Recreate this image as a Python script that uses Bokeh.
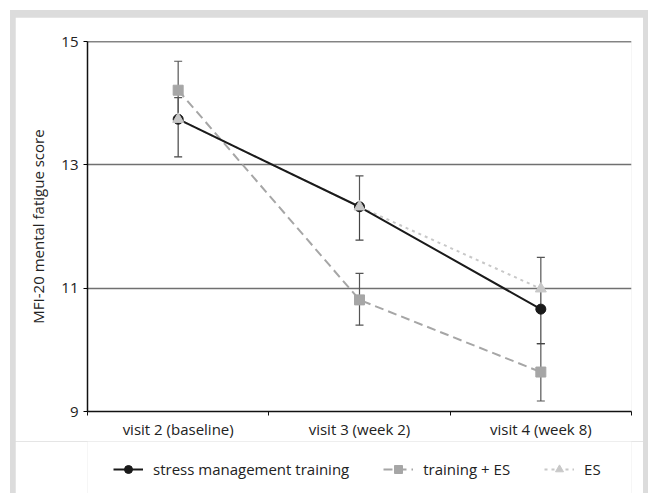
from bokeh.plotting import figure
from bokeh.models import (ColumnDataSource, FixedTicker, Whisker, TeeHead, Span,
                          Legend, LegendItem, Range1d)
from bokeh.layouts import column
from bokeh.embed import file_html
from bokeh.resources import INLINE

# ---- data ----
visits = ["visit 2 (baseline)", "visit 3 (week 2)", "visit 4 (week 8)"]
stress = [13.74, 12.32, 10.66]
stress_lo = [13.13, 11.78, 10.10]
stress_hi = [13.74, 12.32, 10.99]
train_es = [14.21, 10.81, 9.64]
train_es_lo = [13.74, 10.40, 9.17]
train_es_hi = [14.68, 11.24, 10.10]
es = [13.74, 12.32, 10.99]
es_lo = [13.74, 12.32, 10.99]
es_hi = [14.09, 12.82, 11.50]
y_ticks = [9, 11, 13, 15]
series_names = ["stress management training", "training + ES", "ES"]

xs = list(range(len(visits)))
FONT = "Open Sans"
TXT = "#222222"
FS = "15px"
C_ST, C_TES, C_ES = "#1a1a1a", "#a6a6a6", "#c8c8c8"

p = figure(width=628, height=424, output_backend="svg", toolbar_location=None,
           x_range=Range1d(-0.5, len(visits) - 0.5), y_range=Range1d(9, 15),
           min_border_left=72, min_border_right=12, min_border_top=24,
           min_border_bottom=30)
p.margin = (7, 5, 0, 5)
p.background_fill_color = "white"
p.border_fill_color = "white"
p.outline_line_color = None
p.xgrid.grid_line_color = None
p.ygrid.grid_line_color = "#707070"
p.ygrid.grid_line_width = 1.5
p.ygrid.ticker = FixedTicker(ticks=[11, 13])

p.add_layout(Span(location=15, dimension="width", line_color="#111111", line_width=1.5))

# axes
p.yaxis.ticker = FixedTicker(ticks=y_ticks)
p.yaxis.axis_label = "MFI-20 mental fatigue score"
p.yaxis.axis_label_text_font = FONT
p.yaxis.axis_label_text_font_style = "normal"
p.yaxis.axis_label_text_font_size = FS
p.yaxis.axis_label_text_color = TXT
p.yaxis.axis_label_standoff = 10
p.yaxis.major_label_text_font = FONT
p.yaxis.major_label_text_font_size = FS
p.yaxis.major_label_text_color = TXT
p.yaxis.major_tick_out = 4
p.yaxis.major_tick_in = 0
p.yaxis.minor_tick_line_color = None
p.yaxis.axis_line_color = "#111111"
p.yaxis.axis_line_width = 1.5
p.yaxis.major_label_standoff = 5

p.xaxis.ticker = FixedTicker(ticks=xs, minor_ticks=[i - 0.5 for i in range(len(visits) + 1)])
p.xaxis.major_label_overrides = {i: v for i, v in enumerate(visits)}
p.xaxis.major_tick_out = 0
p.xaxis.major_tick_in = 0
p.xaxis.minor_tick_out = 4
p.xaxis.minor_tick_in = 0
p.xaxis.minor_tick_line_color = "#111111"
p.xaxis.axis_line_color = "#111111"
p.xaxis.axis_line_width = 1.5
p.xaxis.major_label_text_font = FONT
p.xaxis.major_label_text_font_size = FS
p.xaxis.major_label_text_color = TXT
p.xaxis.major_label_standoff = 3

# error bars
for vals_lo, vals_hi, col in [(train_es_lo, train_es_hi, "#555555"),
                              (stress_lo, stress_hi, "#444444"),
                              (es_lo, es_hi, "#555555")]:
    src = ColumnDataSource(dict(x=xs, lo=vals_lo, hi=vals_hi))
    w = Whisker(source=src, base="x", lower="lo", upper="hi", line_color=col, line_width=1.2,
                upper_head=TeeHead(size=8, line_color=col, line_width=1.2),
                lower_head=TeeHead(size=8, line_color=col, line_width=1.2))
    p.add_layout(w)

STYLES = {
    "tes": dict(line=dict(line_color=C_TES, line_width=2, line_dash="9 5"),
                mark=dict(marker="square", size=10, fill_color=C_TES, line_color=C_TES)),
    "es": dict(line=dict(line_color=C_ES, line_width=2, line_dash="3 4"),
               mark=dict(marker="triangle", size=11, fill_color=C_ES, line_color=C_ES)),
    "st": dict(line=dict(line_color=C_ST, line_width=2),
               mark=dict(marker="circle", size=10, fill_color=C_ST, line_color=C_ST)),
}
SERIES = {"st": stress, "tes": train_es, "es": es}

# series (lines first, then markers: circle, square, triangle on top)
for k in ["tes", "es", "st"]:
    p.line(xs, SERIES[k], **STYLES[k]["line"])
for k in ["st", "tes", "es"]:
    p.scatter(xs, SERIES[k], **STYLES[k]["mark"])

# legend strip: a small figure whose ranges keep the series out of view,
# so only the legend (with its glyphs) is visible
lg = figure(width=628, height=52, output_backend="svg", toolbar_location=None,
            x_range=Range1d(0, 1), y_range=Range1d(0, 1),
            min_border=0, x_axis_type=None, y_axis_type=None)
lg.margin = (0, 5, 0, 5)
lg.outline_line_color = None
lg.background_fill_color = "white"
lg.border_fill_color = "white"
lg.xgrid.grid_line_color = None
lg.ygrid.grid_line_color = None
items = []
for name, k in zip(series_names, ["st", "tes", "es"]):
    r1 = lg.line(xs, SERIES[k], **STYLES[k]["line"])
    r2 = lg.scatter(xs, SERIES[k], **STYLES[k]["mark"])
    items.append(LegendItem(label=name, renderers=[r1, r2]))
legend = Legend(items=items, orientation="horizontal", location=(26, 14))
legend.label_text_font = FONT
legend.label_text_font_size = FS
legend.label_text_color = TXT
legend.border_line_color = None
legend.background_fill_alpha = 0
legend.glyph_width = 30
legend.label_standoff = 10
legend.spacing = 34
legend.margin = 0
legend.padding = 4
lg.add_layout(legend)

layout = column(p, lg, spacing=0, margin=(10, 0, 0, 10),
                styles={"background-color": "#dcdcdc"})

open("out.html", "w").write(file_html(layout, INLINE))
